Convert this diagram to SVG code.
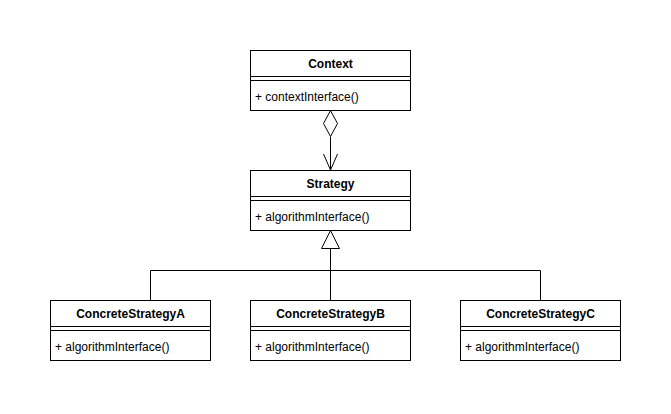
<svg xmlns="http://www.w3.org/2000/svg" width="671" height="414" viewBox="0 0 671 414">
<defs>
<style>
.box{fill:#fff;stroke:#000;stroke-width:1}
.ln{fill:none;stroke:#000;stroke-width:1}
.t{font-family:"Liberation Sans",Arial,sans-serif;font-size:12px;fill:#000}
.h{font-weight:bold;text-anchor:middle}
</style>
</defs>
<rect x="0" y="0" width="671" height="414" fill="#fff"/>
<g id="connectors">
<line class="ln" x1="330.5" y1="137" x2="330.5" y2="170"/>
<polygon class="box" points="330.5,110.5 337.5,123.5 330.5,136.5 323.5,123.5"/>
<polyline class="ln" points="323.5,154 330.5,170 337.5,154"/>
<polyline class="ln" points="150.5,300 150.5,270.5 540.5,270.5 540.5,300"/>
<line class="ln" x1="330.5" y1="248" x2="330.5" y2="300"/>
<polygon class="box" points="330.5,230.5 339.5,248.5 321.5,248.5"/>
</g>
<g id="context">
<rect class="box" x="250.5" y="50.5" width="160" height="60"/>
<line class="ln" x1="250.5" y1="76.5" x2="410.5" y2="76.5"/>
<line class="ln" x1="250.5" y1="80.5" x2="410.5" y2="80.5"/>
<text class="t h" x="330.5" y="68">Context</text>
<text class="t" x="255" y="101">+ contextInterface()</text>
</g>
<g id="strategy">
<rect class="box" x="250.5" y="170.5" width="160" height="60"/>
<line class="ln" x1="250.5" y1="196.5" x2="410.5" y2="196.5"/>
<line class="ln" x1="250.5" y1="200.5" x2="410.5" y2="200.5"/>
<text class="t h" x="330.5" y="188">Strategy</text>
<text class="t" x="255" y="221">+ algorithmInterface()</text>
</g>
<g id="concreteA">
<rect class="box" x="50.5" y="300.5" width="160" height="60"/>
<line class="ln" x1="50.5" y1="326.5" x2="210.5" y2="326.5"/>
<line class="ln" x1="50.5" y1="330.5" x2="210.5" y2="330.5"/>
<text class="t h" x="130.5" y="318">ConcreteStrategyA</text>
<text class="t" x="55" y="351">+ algorithmInterface()</text>
</g>
<g id="concreteB">
<rect class="box" x="250.5" y="300.5" width="160" height="60"/>
<line class="ln" x1="250.5" y1="326.5" x2="410.5" y2="326.5"/>
<line class="ln" x1="250.5" y1="330.5" x2="410.5" y2="330.5"/>
<text class="t h" x="330.5" y="318">ConcreteStrategyB</text>
<text class="t" x="255" y="351">+ algorithmInterface()</text>
</g>
<g id="concreteC">
<rect class="box" x="460.5" y="300.5" width="160" height="60"/>
<line class="ln" x1="460.5" y1="326.5" x2="620.5" y2="326.5"/>
<line class="ln" x1="460.5" y1="330.5" x2="620.5" y2="330.5"/>
<text class="t h" x="540.5" y="318">ConcreteStrategyC</text>
<text class="t" x="465" y="351">+ algorithmInterface()</text>
</g>
</svg>
